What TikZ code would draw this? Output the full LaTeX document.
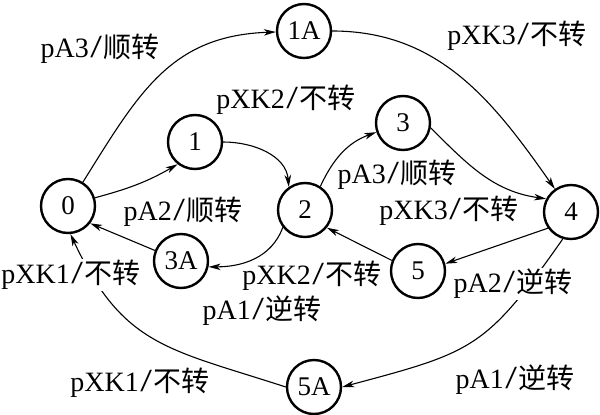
\documentclass[tikz,border=0pt]{standalone}
\usepackage{graphicx}
\usepackage{fontspec}
\setmainfont{Liberation Serif}
\newfontfamily\cjk{Noto Sans CJK SC}
\usetikzlibrary{arrows.meta}
\newcommand{\myslash}{\kern1.5pt\scalebox{1.5}[1.15]{/}\kern1.5pt}
\begin{document}
\begin{tikzpicture}[x=1pt,y=-1pt,
  font=\fontsize{28}{32}\selectfont,
  state/.style={circle,draw,line width=2.4pt,minimum size=54pt,inner sep=0pt,fill=white,font=\fontsize{27}{30}\selectfont},
  edge/.style={line width=1.1pt,-{Stealth[length=12pt,width=6.5pt,inset=3.5pt]}},
  lbl/.style={inner sep=1pt},
  lblw/.style={inner sep=1pt,fill=white}]
\useasboundingbox (0,0) rectangle (600,415);
\node[state] (n0) at (68,206) {0};
\node[state] (n1) at (195,142) {1};
\node[state] (n1A) at (304,31) {1A};
\node[state] (n2) at (305,210) {2};
\node[state] (n3) at (403,123) {3};
\node[state] (n4) at (571,212) {4};
\node[state] (n3A) at (181,261) {3A};
\node[state] (n5) at (418,271) {5};
\node[state] (n5A) at (314,387) {5A};

\draw[edge] (n0) to[out=58,in=182,looseness=1.1] (n1A);
\draw[edge] (n0.17) to[out=15,in=-150] (n1.232);
\draw[edge] (n1.east) to[out=0,in=95] (n2.125);
\draw[edge] (n2.57) to[out=65,in=200] (n3.199);
\draw[edge] (n3.-10) to[out=-45,in=172] (n4.152);
\draw[edge] (n1A.east) to[out=0,in=125] (n4.125);
\draw[edge] (n4.215) -- (n5.15);
\draw[edge] (n5.158) -- (n2.-39);
\draw[edge] (n2.218) to[out=-110,in=0] (n3A.-12);
\draw[edge] (n3A.158) -- (n0.-38);
\draw[edge] (n5A.180) to[out=162,in=-65,looseness=1.2] (n0.-85);
\draw[edge] (n4.-107) to[out=-125,in=15,looseness=1.3] (n5A.0);

\node[lbl] (l1) at (100,49) {pA3\myslash{\cjk 顺转}};
\node[lbl] (l2) at (286,100) {pXK2\myslash{\cjk 不转}};
\node[lbl] (l3) at (517,36) {pXK3\myslash{\cjk 不转}};
\node[lbl] (l4) at (183,212) {pA2\myslash{\cjk 顺转}};
\node[lbl] (l5) at (397,175) {pA3\myslash{\cjk 顺转}};
\node[lbl] (l6) at (449,211) {pXK3\myslash{\cjk 不转}};
\node[lblw] (l7) at (71,275) {pXK1\myslash{\cjk 不转}};
\node[lbl] (l8) at (312,276) {pXK2\myslash{\cjk 不转}};
\node[lbl] (l9) at (262,311) {pA1\myslash{\cjk 逆转}};
\node[lblw] (l10) at (513,284) {pA2\myslash{\cjk 逆转}};
\node[lbl] (l11) at (140,383) {pXK1\myslash{\cjk 不转}};
\node[lbl] (l12) at (515,380) {pA1\myslash{\cjk 逆转}};
\end{tikzpicture}
\end{document}
